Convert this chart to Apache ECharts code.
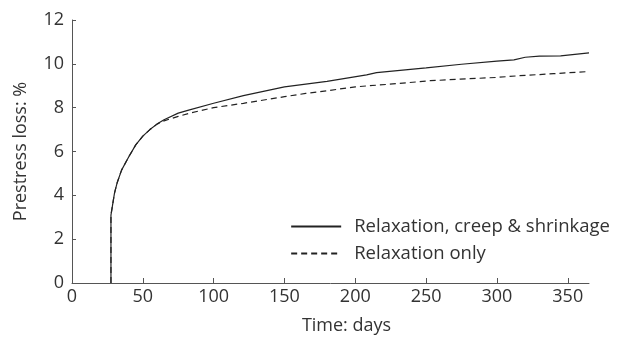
<!DOCTYPE html>
<html>
<head>
<meta charset="utf-8">
<script src="https://cdn.jsdelivr.net/npm/echarts@6/dist/echarts.min.js"></script>
<style>
  html, body { margin: 0; padding: 0; background: #fff; }
  #chart { width: 628px; height: 340px; }
</style>
</head>
<body>
<div id="chart"></div>
<script>
// time (days) and prestress loss (%)
var fullDays = [27.5, 27.5, 29, 30, 32, 35, 40, 45, 50, 55, 60, 65, 75, 83, 100, 121, 150, 180, 208, 215, 250, 275, 300, 312, 320, 330, 345, 365];
var fullLoss = [0, 3.1, 3.7, 4.1, 4.6, 5.15, 5.75, 6.3, 6.7, 7.0, 7.25, 7.45, 7.75, 7.9, 8.2, 8.55, 8.95, 9.2, 9.5, 9.6, 9.82, 9.98, 10.12, 10.18, 10.3, 10.35, 10.36, 10.5];

var relaxDays = [27.5, 27.5, 29, 30, 32, 35, 40, 45, 50, 55, 60, 65, 75, 83, 100, 121, 150, 165, 180, 200, 230, 253, 274, 300, 314, 340, 365];
var relaxLoss = [0, 3.1, 3.7, 4.1, 4.6, 5.15, 5.75, 6.3, 6.7, 7.0, 7.25, 7.4, 7.6, 7.75, 8.0, 8.2, 8.5, 8.65, 8.77, 8.95, 9.1, 9.23, 9.3, 9.38, 9.45, 9.55, 9.65];

var seriesNames = ['Relaxation, creep & shrinkage', 'Relaxation only'];

function pairs(xs, ys) {
    var out = [];
    for (var i = 0; i < xs.length; i++) out.push([xs[i], ys[i]]);
    return out;
}

var font = 'Open Sans';
var txt = '#333';
var axisCol = '#555';

var myChart = echarts.init(document.getElementById('chart'));
var option = {
    animation: false,
    textStyle: { fontFamily: font },
    grid: { left: 72, right: 39, top: 20, bottom: 57 },
    legend: {
        orient: 'vertical',
        right: 13,
        top: 212,
        itemWidth: 50,
        itemHeight: 14,
        itemGap: 8,
        itemStyle: { opacity: 0 },
        textStyle: { fontFamily: font, fontSize: 18.5, color: txt, padding: [0, 0, 0, 8] },
        data: seriesNames
    },
    xAxis: {
        type: 'value',
        min: 0,
        max: 365,
        interval: 50,
        name: 'Time: days',
        nameLocation: 'middle',
        nameGap: 34,
        nameTextStyle: { fontSize: 18, color: txt, padding: [0, 0, 0, 32] },
        axisLine: { lineStyle: { color: axisCol, width: 1 } },
        axisTick: { inside: true, length: 5, lineStyle: { color: axisCol } },
        axisLabel: { fontSize: 18, color: txt, margin: 5, showMaxLabel: false },
        splitLine: { show: false }
    },
    yAxis: {
        type: 'value',
        min: 0,
        max: 12,
        interval: 2,
        name: 'Prestress loss: %',
        nameLocation: 'middle',
        nameGap: 42,
        nameTextStyle: { fontSize: 18, color: txt },
        axisLine: { show: true, lineStyle: { color: axisCol, width: 1 } },
        axisTick: { show: true, inside: true, length: 4, lineStyle: { color: axisCol } },
        axisLabel: { fontSize: 18, color: txt, margin: 8 },
        splitLine: { show: false }
    },
    series: [{
        name: seriesNames[0],
        type: 'line',
        showSymbol: false,
        symbol: 'none',
        data: pairs(fullDays, fullLoss),
        lineStyle: { color: '#222', width: 1.2, type: 'solid' },
        itemStyle: { color: '#222' }
    }, {
        name: seriesNames[1],
        type: 'line',
        showSymbol: false,
        symbol: 'none',
        data: pairs(relaxDays, relaxLoss),
        lineStyle: { color: '#222', width: 1.2, type: [6, 4] },
        itemStyle: { color: '#222' }
    }]
};
myChart.setOption(option);
</script>
</body>
</html>
